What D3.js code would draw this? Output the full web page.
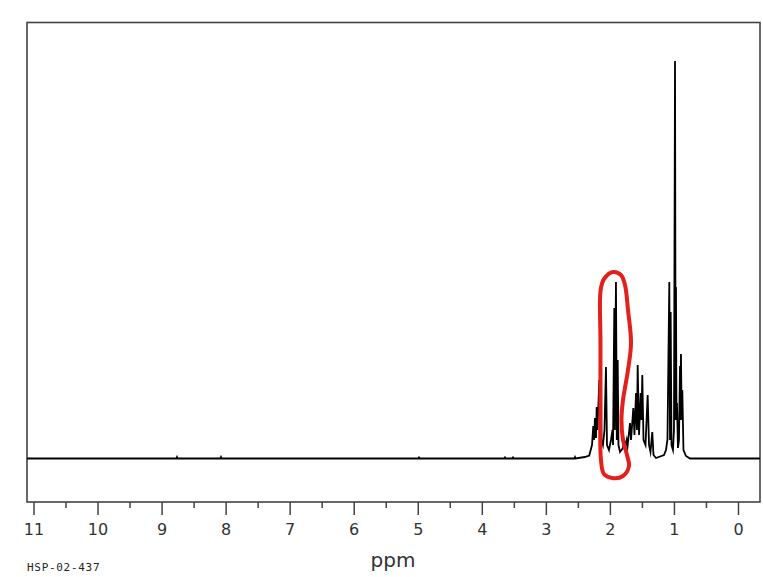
<!DOCTYPE html>
<html>
<head>
<meta charset="utf-8">
<script src="https://cdn.jsdelivr.net/npm/d3@7"></script>
<style>
  body { margin: 0; background: #fff; }
  text { font-family: "DejaVu Sans", sans-serif; }
</style>
</head>
<body>
<svg id="chart" width="763" height="577"></svg>
<script>
// trace points: ppm
var tracePpm = [11.11, 8.777, 8.767, 8.757, 8.09, 8.08, 8.07, 4.998, 4.988, 4.978,
  3.656, 3.646, 3.636, 3.531, 3.521, 3.511, 2.563, 2.553, 2.543, 2.40, 2.33,
  2.287, 2.267, 2.256, 2.240, 2.225, 2.214, 2.201, 2.173, 2.162, 2.151, 2.139,
  2.116, 2.092, 2.069, 2.053, 2.022, 1.991, 1.967, 1.959, 1.939, 1.931, 1.913,
  1.900, 1.886, 1.874, 1.850, 1.803, 1.788, 1.764, 1.746, 1.733, 1.694, 1.678,
  1.642, 1.624, 1.600, 1.585, 1.574, 1.553, 1.527, 1.514, 1.502, 1.483, 1.452,
  1.418, 1.397, 1.374, 1.346, 1.327, 1.288, 1.163, 1.132, 1.109, 1.080, 1.069,
  1.059, 1.046, 1.023, 1.007, 0.991, 0.981, 0.976, 0.968, 0.960, 0.945, 0.929,
  0.913, 0.906, 0.898, 0.887, 0.877, 0.859, 0.820, 0.757, -0.336];
// ...and intensity (arbitrary units)
var traceInt = [0, 0, 1.5, 0, 0, 1.5, 0, 0, 1, 0,
  0, 1, 0, 0, 1, 0, 0, 1.5, 0, 1.5, 3,
  13.5, 32.5, 18.5, 40.5, 20.5, 51.5, 28.5, 78.5, 38.5, 108.5, 18.5,
  13.5, 28.5, 91.5, 13.5, 8.5, 18.5, 28.5, 13.5, 150.5, 28.5, 176.5,
  18.5, 98.5, 13.5, 6.5, 10.5, 18.5, 13.5, 18.5, 11.5, 35.5, 18.5,
  50.5, 23.5, 65.5, 28.5, 93.5, 23.5, 65.5, 38.5, 83.5, 18.5, 13.5,
  63.5, 13.5, 6.5, 26.5, 3.5, 0.5, 3.5, 8.5, 18.5, 176.5, 18.5,
  146.5, 13.5, 8.5, 28.5, 397.5, 38.5, 171.5, 38.5, 55.5, 10.5, 18.5,
  92.5, 38.5, 104.5, 38.5, 68.5, 8.5, 2.5, 0, 0];

// hand-drawn red loop, in ppm / intensity units
var markPpm = [1.959, 1.835, 1.772, 1.725, 1.678, 1.725, 1.803, 1.827, 1.803, 1.741,
  1.710, 1.803, 1.975, 2.100, 2.147, 2.155, 2.155, 2.162, 2.147, 2.100];
var markInt = [186.5, 183.5, 173.5, 148.5, 115.5, 88.5, 58.5, 38.5, 18.5, 3.5,
  -7.5, -17.5, -19.5, -15.5, -1.5, 58.5, 118.5, 158.5, 170.5, 179.5];

var majorTicks = [11, 10, 9, 8, 7, 6, 5, 4, 3, 2, 1, 0];
var minorTicks = [10.5, 9.5, 8.5, 7.5, 6.5, 5.5, 4.5, 3.5, 2.5, 1.5, 0.5];

var svg = d3.select("#chart");
var frame = {left: 27, right: 760, top: 22.5, bottom: 502};

var x = d3.scaleLinear().domain([11.109, -0.336]).range([frame.left, frame.right]);
var y = d3.scaleLinear().domain([-43.5, 436]).range([frame.bottom, frame.top]);

// frame
svg.append("rect")
   .attr("x", frame.left).attr("y", frame.top)
   .attr("width", frame.right - frame.left).attr("height", frame.bottom - frame.top)
   .style("fill", "none").style("stroke", "#444").style("stroke-width", 1.6);

// ticks
svg.append("g").selectAll("line.major")
   .data(majorTicks).enter().append("line")
   .attr("class", "major")
   .attr("x1", function(d) { return x(d); }).attr("x2", function(d) { return x(d); })
   .attr("y1", frame.bottom).attr("y2", frame.bottom + 13)
   .style("stroke", "#444").style("stroke-width", 1.5);

svg.append("g").selectAll("line.minor")
   .data(minorTicks).enter().append("line")
   .attr("class", "minor")
   .attr("x1", function(d) { return x(d); }).attr("x2", function(d) { return x(d); })
   .attr("y1", frame.bottom).attr("y2", frame.bottom + 6)
   .style("stroke", "#444").style("stroke-width", 1.5);

svg.append("g").selectAll("text")
   .data(majorTicks).enter().append("text")
   .attr("x", function(d) { return x(d); })
   .attr("y", 535)
   .attr("text-anchor", "middle")
   .style("font-size", "16px").style("fill", "#333")
   .text(function(d) { return d; });

// spectrum
var trace = tracePpm.map(function(p, i) { return [p, traceInt[i]]; });
var line = d3.line()
   .x(function(d) { return x(d[0]); })
   .y(function(d) { return y(d[1]); });

svg.append("path")
   .datum(trace)
   .attr("d", line)
   .style("fill", "none").style("stroke", "#000").style("stroke-width", 1.8)
   .style("stroke-linejoin", "miter").style("stroke-miterlimit", 10);

// red annotation
var mark = markPpm.map(function(p, i) { return [p, markInt[i]]; });
svg.append("path")
   .datum(mark)
   .attr("d", line.curve(d3.curveCatmullRomClosed))
   .style("fill", "none").style("stroke", "#e3201c").style("stroke-width", 4)
   .style("stroke-linejoin", "round");

// labels
svg.append("text")
   .attr("x", 393).attr("y", 567)
   .attr("text-anchor", "middle")
   .style("font-size", "20px").style("fill", "#333")
   .text("ppm");

svg.append("text")
   .attr("x", 27).attr("y", 571)
   .style("font-family", "'DejaVu Sans Mono', monospace")
   .style("font-size", "11px").style("letter-spacing", "0.7px").style("fill", "#222")
   .text("HSP-02-437");
</script>
</body>
</html>
